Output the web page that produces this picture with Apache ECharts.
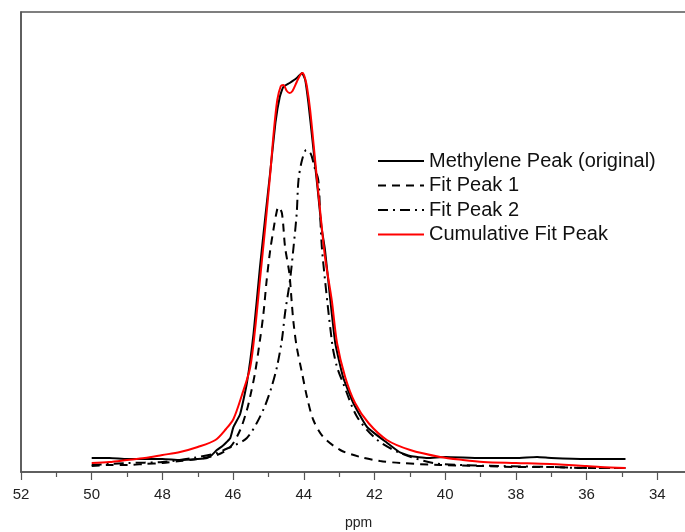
<!DOCTYPE html>
<html>
<head>
<meta charset="utf-8">
<script src="https://cdn.jsdelivr.net/npm/echarts@6/dist/echarts.min.js"></script>
<style>
html,body{margin:0;padding:0;background:#fff;}
#c{width:685px;height:532px;}
</style>
</head>
<body>
<div id="c"></div>
<script>
// ---- data (ppm, intensity in arbitrary units) ----
const seriesNames = ['Methylene Peak (original)', 'Fit Peak 1', 'Fit Peak 2', 'Cumulative Fit Peak'];

const origX = [50.0,49.5,49.0,48.5,48.0,47.5,47.0,46.74,46.6,46.46,46.3,46.18,46.08,45.99,45.8,45.61,45.42,45.24,45.09,44.95,44.8,44.68,44.58,44.4,44.2,44.05,43.96,43.87,43.75,43.6,43.5,43.4,43.25,43.11,42.89,42.6,42.21,41.64,41.3,40.99,40.5,40.0,39.0,38.0,37.4,37.0,36.0,34.9];
const origY = [14,14,13,13,13,12,13,14,17,22,26,30,34,45,58,89,139,205,255,300,350,375,385,389,394,399,392,369,330,280,245,222,172,129,95,69,45,29,20,16,14,15,14,14,15,14,13,13];

const fit1X = [50.0,49.5,49.0,48.5,48.0,47.5,47.0,46.46,46.08,45.8,45.61,45.52,45.38,45.24,45.14,45.05,44.95,44.86,44.78,44.72,44.62,44.53,44.41,44.34,44.29,44.2,44.05,43.91,43.73,43.45,42.97,42.4,41.84,41.27,40.14,39.0,38.0,37.0,36.0,34.9];
const fit1Y = [6,7,7,8,9,11,13,17,25,42,62,75,99,132,159,192,222,242,258,265,259,225,199,169,149,125,99,75,52,35,22,15,11,9,7,6,5,5,4,4];

const fit2X = [50.0,49.0,48.0,47.13,46.46,46.2,45.94,45.61,45.33,45.1,44.92,44.76,44.62,44.53,44.39,44.29,44.2,44.15,44.05,43.93,43.8,43.7,43.59,43.54,43.49,43.4,43.3,43.21,43.17,43.06,42.89,42.49,41.92,41.27,40.34,39.5,38.5,37.0,36.0,34.9];
const fit2Y = [7,9,10,14,19,23,27,34,49,66,84,105,132,159,192,225,259,292,312,322,318,305,292,259,225,192,159,132,122,105,89,55,32,19,9,7,6,5,4,4];

const cumX = [50.0,49.5,49.0,48.5,48.0,47.5,47.0,46.5,46.2,45.99,45.75,45.52,45.38,45.24,45.09,44.95,44.85,44.75,44.65,44.58,44.48,44.4,44.32,44.2,44.1,44.03,43.96,43.91,43.82,43.68,43.54,43.4,43.21,43.06,42.83,42.55,42.17,41.65,40.99,40.14,39.5,38.92,38.0,37.03,36.0,35.61,34.9];
const cumY = [9,10,12,14,17,20,25,32,43,53,77,104,142,192,245,298,340,372,386,387,381,379,381,390,397,399,393,385,362,312,262,215,172,129,95,69,49,32,22,15,12,10,9,8,6,5,4];

const xTicks = {min: 32, max: 52, interval: 2};

function pairs(xs, ys){ return xs.map((x,i)=>[x, ys[i]]); }

const FONT = '"Liberation Sans", Arial, sans-serif';
const chart = echarts.init(document.getElementById('c'), null, {renderer:'canvas'});
chart.setOption({
  animation: false,
  backgroundColor: '#ffffff',
  grid: {left: 21, top: 12, right: -43, bottom: 60, containLabel: false, outerBoundsMode: 'none',
         show: true, borderColor: '#555', borderWidth: 1.5, backgroundColor: 'transparent'},
  xAxis: {
    type: 'value', inverse: true, min: xTicks.min, max: xTicks.max, interval: xTicks.interval,
    axisLine: {show: true, onZero: false, lineStyle: {color: '#555', width: 1.5}},
    axisTick: {show: true, inside: false, length: 8, lineStyle: {color: '#555', width: 1.2}},
    minorTick: {show: true, splitNumber: 2, length: 5, lineStyle: {color: '#555', width: 1.2}},
    axisLabel: {color: '#222', fontSize: 15, fontFamily: FONT, margin: 15},
    splitLine: {show: false}
  },
  yAxis: {
    type: 'value', min: 0, max: 460,
    axisLine: {show: true, lineStyle: {color: '#555', width: 1.5}},
    axisTick: {show: false}, axisLabel: {show: false}, splitLine: {show: false}
  },
  legend: {
    orient: 'vertical', left: 372, top: 146, itemWidth: 46, itemHeight: 14, itemGap: 4.5,
    itemStyle: {opacity: 0},
    textStyle: {fontSize: 20, fontFamily: FONT, color: '#111', lineHeight: 20},
    data: seriesNames
  },
  graphic: [{type: 'text', left: 345, top: 516, style: {text: 'ppm', font: '14px ' + FONT, fill: '#222'}}],
  series: [
    {name: seriesNames[0], type: 'line', data: pairs(origX, origY), symbol: 'none', smooth: 0.15, lineStyle: {color: '#000', width: 2}, itemStyle: {color: '#000'}, z: 3},
    {name: seriesNames[1], type: 'line', data: pairs(fit1X, fit1Y), symbol: 'none', smooth: 0.3, lineStyle: {color: '#000', width: 2, type: [8, 6]}, itemStyle: {color: '#000'}, z: 2},
    {name: seriesNames[2], type: 'line', data: pairs(fit2X, fit2Y), symbol: 'none', smooth: 0.3, lineStyle: {color: '#000', width: 2, type: [10, 5, 2, 5]}, itemStyle: {color: '#000'}, z: 2},
    {name: seriesNames[3], type: 'line', data: pairs(cumX, cumY), symbol: 'none', smooth: 0.3, lineStyle: {color: '#ff0000', width: 2}, itemStyle: {color: '#ff0000'}, z: 4}
  ]
});
</script>
</body>
</html>
